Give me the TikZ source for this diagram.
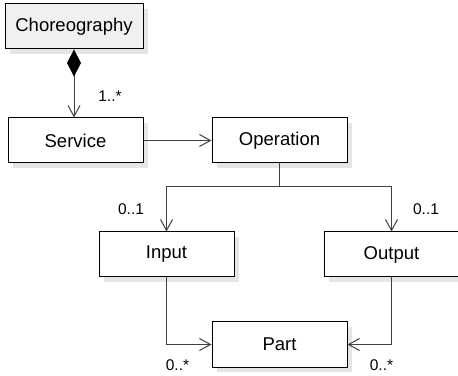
\documentclass[tikz,border=0pt]{standalone}
\usepackage{fontspec}
\setmainfont{Liberation Sans}
\usetikzlibrary{positioning,arrows.meta,shadows,calc}

\begin{document}
\begin{tikzpicture}[x=1pt,y=1pt,
  node distance=68pt,
  barb/.style={-{Straight Barb[length=11pt,width=12pt]}},
  link/.style={draw=black!75,line width=1pt},
  classbox/.style={rectangle,draw,line width=1pt,fill=white,
    minimum width=135pt,minimum height=45pt,inner sep=0pt,
    font=\fontsize{18.5}{21}\selectfont,
    general shadow={fill=black!10,shadow xshift=5pt,shadow yshift=-5pt}},
  mult/.style={font=\fontsize{15.5}{17}\selectfont,inner sep=0pt}
  ]
  \useasboundingbox (0,0) rectangle (458,375);

  \node[classbox] (service) at (75.5,234.5) {Service};
  \node[classbox,fill=black!6,minimum width=138pt,above=of service,xshift=-1.5pt] (chor) {Choreography};
  \node[classbox,right=of service] (operation) {Operation};
  \node[classbox,below=of operation,xshift=-113pt] (input) {Input};
  \node[classbox,below=of operation,xshift=112pt] (output) {Output};
  \node[classbox,below=158pt of operation] (part) {Part};

  \draw[link,{Diamond[length=27pt,width=14pt,black,fill=black]}-{Straight Barb[length=11pt,width=12pt]}]
    (chor.south) -- (chor.south |- service.north);
  \draw[link,barb] (service) -- (operation);
  \draw[link] (operation.south) -- ++(0,-23pt) coordinate (split);
  \draw[link,barb] (split) -| (input.north);
  \draw[link,barb] (split) -| (output.north);
  \draw[link,barb] (input.south) |- (part.west);
  \draw[link,barb] (output.south) |- (part.east);

  % multiplicities
  \node[mult] (m1) at ($(service.north)+(34.5pt,21pt)$) {1..*};
  \node[mult] (m2) at ($(input.north)+(-35.5pt,22pt)$) {0..1};
  \node[mult] (m3) at ($(output.north)+(34.5pt,22pt)$) {0..1};
  \node[mult] (m4) at ($(part.west)+(-34pt,-20.5pt)$) {0..*};
  \node[mult] (m5) at ($(part.east)+(34pt,-20.5pt)$) {0..*};
\end{tikzpicture}
\end{document}
